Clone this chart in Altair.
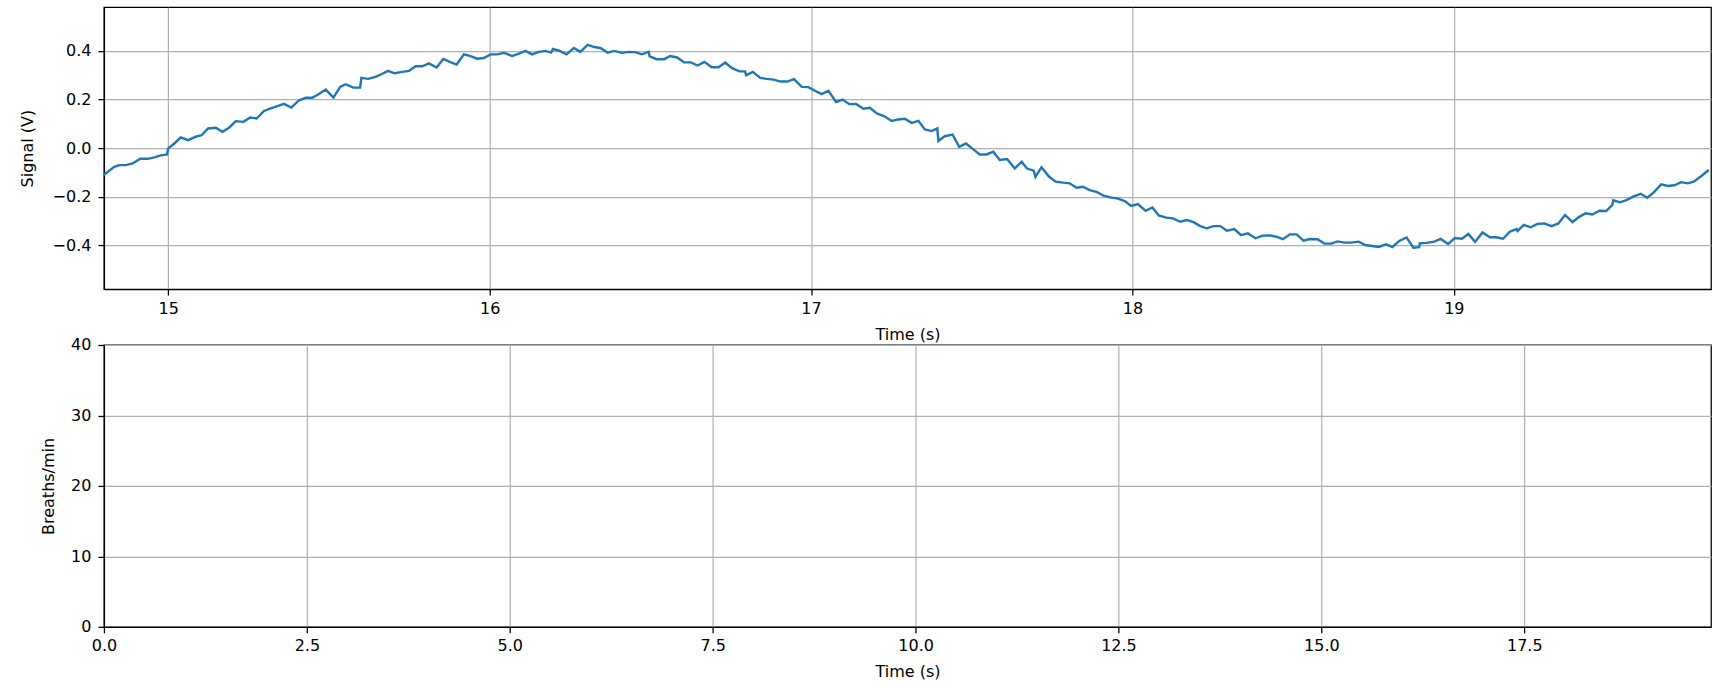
import altair as alt
import pandas as pd

# Top panel: respiration signal (time in s, signal in V)
sig_t = [
    14.799, 14.832, 14.848, 14.868, 14.889, 14.913, 14.936, 14.957, 14.977, 14.996,
    15.000, 15.019, 15.039, 15.062, 15.086, 15.104, 15.124, 15.148, 15.169, 15.190,
    15.210, 15.234, 15.255, 15.275, 15.298, 15.319, 15.340, 15.360, 15.383, 15.407,
    15.428, 15.448, 15.469, 15.490,
    15.514, 15.535, 15.552, 15.576, 15.597, 15.601, 15.622, 15.645, 15.663, 15.684,
    15.704, 15.728, 15.749, 15.770, 15.790, 15.811, 15.835, 15.856, 15.876, 15.897,
    15.920, 15.941, 15.961, 15.982, 16.003, 16.023, 16.046, 16.070, 16.091, 16.111,
    16.132, 16.153, 16.174, 16.191, 16.197, 16.218,
    16.239, 16.262, 16.282, 16.305, 16.326, 16.346, 16.367, 16.388, 16.412, 16.432,
    16.453, 16.474, 16.495, 16.498, 16.520, 16.543, 16.562, 16.583, 16.605, 16.626,
    16.647, 16.668, 16.691, 16.712, 16.733, 16.753, 16.777, 16.795, 16.798, 16.819,
    16.842, 16.862, 16.883, 16.906, 16.926, 16.947,
    16.971, 16.992, 17.012, 17.033, 17.054, 17.078, 17.098, 17.119, 17.140, 17.163,
    17.183, 17.206, 17.227, 17.251, 17.271, 17.292, 17.313, 17.334, 17.354, 17.375,
    17.393, 17.396, 17.416, 17.440, 17.461, 17.482, 17.504, 17.525, 17.546, 17.567,
    17.587, 17.610, 17.634, 17.655,
    17.672, 17.693, 17.698, 17.717, 17.741, 17.761, 17.784, 17.805, 17.826, 17.846,
    17.867, 17.890, 17.910, 17.931, 17.955, 17.976, 17.996, 18.017, 18.041, 18.062,
    18.082, 18.105, 18.126, 18.149, 18.169, 18.190, 18.211, 18.231, 18.252, 18.273,
    18.294, 18.317, 18.338, 18.359,
    18.383, 18.405, 18.426, 18.447, 18.468, 18.490, 18.511, 18.532, 18.552, 18.576,
    18.597, 18.618, 18.638, 18.659, 18.680, 18.704, 18.724, 18.745, 18.766, 18.789,
    18.809, 18.830, 18.853, 18.874, 18.892, 18.894, 18.915, 18.939, 18.959, 18.982,
    19.003, 19.025, 19.045, 19.066, 19.089,
    19.112, 19.132, 19.153, 19.174, 19.195, 19.198, 19.218, 19.239, 19.260, 19.281,
    19.304, 19.325, 19.346, 19.369, 19.389, 19.410, 19.431, 19.453, 19.474, 19.493,
    19.496, 19.517, 19.537, 19.558, 19.581, 19.602, 19.622, 19.645, 19.666, 19.686,
    19.707, 19.728, 19.746, 19.767, 19.793,
]
sig_v = [
    -0.111, -0.077, -0.070, -0.070, -0.063, -0.044, -0.044, -0.038, -0.030, -0.026,
    -0.001, 0.019, 0.044, 0.033, 0.047, 0.053, 0.081, 0.084, 0.067, 0.085,
    0.111, 0.108, 0.126, 0.122, 0.153, 0.164, 0.173, 0.182, 0.167, 0.197,
    0.207, 0.207, 0.223, 0.241,
    0.208, 0.252, 0.263, 0.249, 0.249, 0.289, 0.285, 0.293, 0.304, 0.318,
    0.308, 0.314, 0.318, 0.337, 0.337, 0.349, 0.332, 0.367, 0.355, 0.344,
    0.386, 0.379, 0.368, 0.371, 0.386, 0.386, 0.392, 0.379, 0.389, 0.400,
    0.386, 0.396, 0.400, 0.393, 0.408, 0.400,
    0.386, 0.412, 0.396, 0.425, 0.416, 0.411, 0.393, 0.400, 0.392, 0.396,
    0.395, 0.386, 0.396, 0.378, 0.366, 0.366, 0.379, 0.373, 0.353, 0.353,
    0.340, 0.355, 0.333, 0.333, 0.352, 0.330, 0.316, 0.316, 0.300, 0.314,
    0.289, 0.285, 0.282, 0.274, 0.274, 0.284,
    0.252, 0.251, 0.236, 0.222, 0.236, 0.190, 0.200, 0.181, 0.182, 0.162,
    0.166, 0.142, 0.132, 0.112, 0.118, 0.121, 0.104, 0.112, 0.077, 0.070,
    0.081, 0.029, 0.049, 0.056, 0.005, 0.019, -0.004, -0.026, -0.026, -0.015,
    -0.049, -0.045, -0.084, -0.056,
    -0.084, -0.093, -0.118, -0.079, -0.118, -0.138, -0.142, -0.145, -0.163, -0.159,
    -0.173, -0.181, -0.196, -0.203, -0.208, -0.218, -0.238, -0.230, -0.258, -0.244,
    -0.277, -0.286, -0.289, -0.303, -0.296, -0.305, -0.321, -0.330, -0.321, -0.321,
    -0.340, -0.333, -0.358, -0.351,
    -0.371, -0.360, -0.359, -0.364, -0.375, -0.355, -0.355, -0.381, -0.374, -0.375,
    -0.393, -0.393, -0.384, -0.389, -0.389, -0.385, -0.399, -0.403, -0.407, -0.396,
    -0.407, -0.382, -0.368, -0.410, -0.408, -0.392, -0.390, -0.385, -0.374, -0.395,
    -0.370, -0.373, -0.353, -0.386, -0.347,
    -0.367, -0.367, -0.373, -0.344, -0.333, -0.341, -0.316, -0.326, -0.312, -0.310,
    -0.321, -0.310, -0.275, -0.305, -0.284, -0.268, -0.273, -0.258, -0.259, -0.234,
    -0.215, -0.223, -0.214, -0.200, -0.188, -0.204, -0.182, -0.149, -0.156, -0.153,
    -0.140, -0.145, -0.138, -0.118, -0.090,
]

# Bottom panel: breathing rate (no points plotted)
rate_t = []
rate_bpm = []

top_xticks = [15, 16, 17, 18, 19]
top_yticks = [-0.4, -0.2, 0.0, 0.2, 0.4]
bot_xticks = [0.0, 2.5, 5.0, 7.5, 10.0, 12.5, 15.0, 17.5]
bot_yticks = [0, 10, 20, 30, 40]

sig_df = pd.DataFrame({"t": sig_t, "v": sig_v})
rate_df = pd.DataFrame({"t": pd.Series(rate_t, dtype=float),
                        "bpm": pd.Series(rate_bpm, dtype=float)})

W, H = 1608, 282

top = alt.Chart(sig_df).mark_line(color="#1f77b4", strokeWidth=2.4, clip=True).encode(
    x=alt.X("t:Q", scale=alt.Scale(domain=[14.8, 19.8], nice=False, zero=False),
            axis=alt.Axis(title="Time (s)", values=top_xticks, format="d",
                          titleY=45, titleBaseline="middle", labelFlush=False)),
    y=alt.Y("v:Q", scale=alt.Scale(domain=[-0.58, 0.58], nice=False, zero=False),
            axis=alt.Axis(title="Signal (V)", values=top_yticks, format=".1f",
                          titleX=-76, titleY=H / 2, titleAngle=270,
                          titleBaseline="middle", titleAlign="center",
                          labelFlush=False)),
).properties(width=W, height=H)

bottom = alt.Chart(rate_df).mark_line(color="#1f77b4", strokeWidth=2.4, clip=True).encode(
    x=alt.X("t:Q", scale=alt.Scale(domain=[0, 19.8], nice=False, zero=False),
            axis=alt.Axis(title="Time (s)", values=bot_xticks, format=".1f",
                          titleY=45, titleBaseline="middle", labelFlush=False)),
    y=alt.Y("bpm:Q", scale=alt.Scale(domain=[0, 40], nice=False, zero=False),
            axis=alt.Axis(title="Breaths/min", values=bot_yticks, format="d",
                          titleX=-55, titleY=H / 2, titleAngle=270,
                          titleBaseline="middle", titleAlign="center",
                          labelFlush=False)),
).properties(width=W, height=H)

chart = alt.vconcat(top, bottom, spacing=56, bounds="flush").properties(
    padding={"left": 19, "top": 6, "right": 2, "bottom": 2},
    background="white",
).configure_view(
    stroke="black", strokeWidth=1.27
).configure_axis(
    labelFont="DejaVu Sans", labelFontSize=16, labelColor="black",
    titleFont="DejaVu Sans", titleFontSize=16, titleColor="black",
    titleFontWeight="normal",
    domainColor="black", domainWidth=1.27,
    tickColor="black", tickWidth=1.27, tickSize=6,
    gridColor="#b0b0b0", gridWidth=1.2, grid=True,
).configure_axisX(
    labelPadding=5
).configure_axisY(
    labelPadding=7
)

chart.save("out.html", embed_options={"renderer": "svg", "actions": False})
